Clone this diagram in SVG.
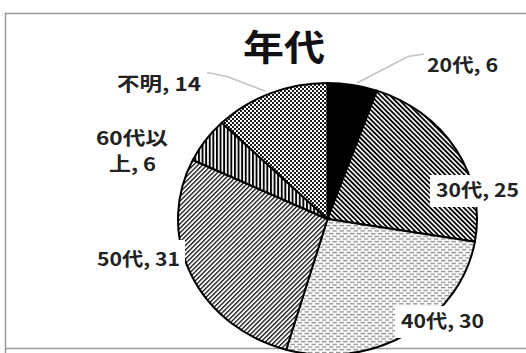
<svg xmlns="http://www.w3.org/2000/svg" width="526" height="353" viewBox="0 0 526 353">
<style>
.lbl{font-family:"Noto Sans CJK JP","Noto Sans",sans-serif;font-weight:bold;font-size:19px;fill:#222}
.ttl{font-family:"Noto Sans CJK JP","Noto Sans",sans-serif;font-weight:bold;font-size:36px;fill:#111}
.slice{stroke:#000;stroke-width:2;stroke-linejoin:round}
.lead{fill:none;stroke:#c4c4c4;stroke-width:1.6}
.box{fill:#fff}
</style>
<defs>
<pattern id="p30" width="3.4" height="3.4" patternUnits="userSpaceOnUse" patternTransform="rotate(-45)">
<rect width="3.4" height="3.4" fill="#fff"/><rect width="1.8" height="3.4" fill="#000"/>
</pattern>
<pattern id="p50" width="3.2" height="3.2" patternUnits="userSpaceOnUse" patternTransform="rotate(45)">
<rect width="3.2" height="3.2" fill="#fff"/><rect width="1.3" height="3.2" fill="#111"/>
</pattern>
<pattern id="p60" width="3.6" height="4" patternUnits="userSpaceOnUse">
<rect width="3.6" height="4" fill="#fff"/><rect width="1.9" height="4" fill="#000"/>
</pattern>
<pattern id="pUnk" width="4" height="4" patternUnits="userSpaceOnUse">
<rect width="4" height="4" fill="#1a1a1a"/><rect x="0" y="0" width="2" height="2" fill="#fff"/><rect x="2" y="2" width="2" height="2" fill="#fff"/>
</pattern>
<pattern id="p40" width="7" height="5.4" patternUnits="userSpaceOnUse">
<rect width="7" height="5.4" fill="#fff"/>
<rect x="0" y="0.8" width="4.4" height="1.3" fill="#8a8a8a"/>
<rect x="3.5" y="3.5" width="4.4" height="1.3" fill="#8a8a8a"/>
<rect x="-3.5" y="3.5" width="4.4" height="1.3" fill="#8a8a8a"/>
</pattern>
</defs>
<rect width="526" height="353" fill="#fff"/>
<path d="M5.5,353 V13.5 H526" fill="none" stroke="#9a9a9a" stroke-width="1.5"/>
<line x1="5" y1="348.5" x2="526" y2="348.5" stroke="#9a9a9a" stroke-width="1.5"/>
<g id="title"><text class="ttl" x="243" y="61" textLength="82" lengthAdjust="spacingAndGlyphs">年代</text></g>
<g id="slice-20s"><path class="slice" fill="#000" d="M327.5,219 L327.5,83 A149.5,136 0 0 1 376.88,90.63 Z"/></g>
<g id="slice-30s"><path class="slice" fill="url(#p30)" d="M327.5,219 L376.88,90.63 A149.5,136 0 0 1 474.89,241.78 Z"/></g>
<g id="slice-40s"><path class="slice" fill="url(#p40)" d="M327.5,219 L474.89,241.78 A149.5,136 0 0 1 286.12,349.69 Z"/></g>
<g id="slice-50s"><path class="slice" fill="url(#p50)" d="M327.5,219 L286.12,349.69 A149.5,136 0 0 1 192.81,159.99 Z"/></g>
<g id="slice-60s"><path class="slice" fill="url(#p60)" d="M327.5,219 L192.81,159.99 A149.5,136 0 0 1 221.79,122.83 Z"/></g>
<g id="slice-unknown"><path class="slice" fill="url(#pUnk)" d="M327.5,219 L221.79,122.83 A149.5,136 0 0 1 327.5,83 Z"/></g>
<g id="connectors">
<polyline class="lead" points="424,54 408,56.5 357,83"/>
<polyline class="lead" points="207,72.5 227,76.5 265,91"/>
</g>
<g id="label-20s"><text class="lbl" x="427" y="72" textLength="71" lengthAdjust="spacingAndGlyphs">20代, 6</text></g>
<g id="label-30s"><rect class="box" x="430" y="175" width="96" height="32"/><text class="lbl" x="436" y="197" textLength="83" lengthAdjust="spacingAndGlyphs">30代, 25</text></g>
<g id="label-40s"><rect class="box" x="395" y="306" width="95" height="32"/><text class="lbl" x="401" y="328" textLength="83" lengthAdjust="spacingAndGlyphs">40代, 30</text></g>
<g id="label-50s"><rect class="box" x="92" y="240" width="93" height="31"/><text class="lbl" x="97" y="266" textLength="83" lengthAdjust="spacingAndGlyphs">50代, 31</text></g>
<g id="label-60s"><text class="lbl" x="96" y="145" textLength="72" lengthAdjust="spacingAndGlyphs">60代以</text><text class="lbl" x="109" y="171" textLength="47" lengthAdjust="spacingAndGlyphs">上, 6</text></g>
<g id="label-unknown"><text class="lbl" x="117" y="91" textLength="84" lengthAdjust="spacingAndGlyphs">不明, 14</text></g>
</svg>
